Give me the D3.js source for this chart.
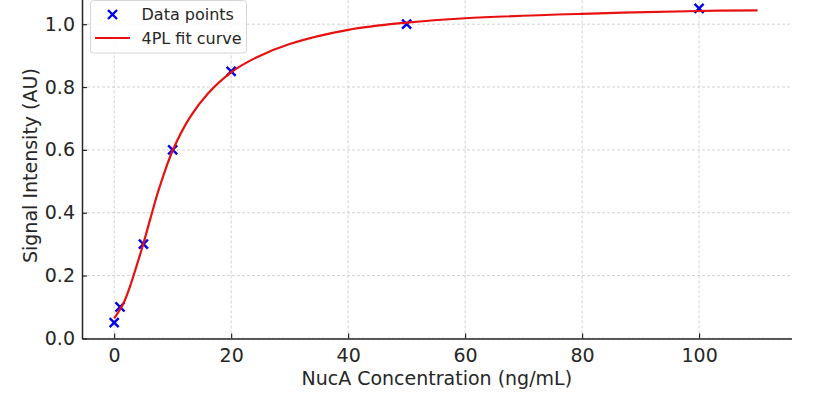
<!DOCTYPE html>
<html>
<head>
  <title>4PL fit</title>
  <script src="https://d3js.org/d3.v7.min.js"></script>
  <style>
    body { margin: 0; background: #fff; font-family: "DejaVu Sans", sans-serif; }
    svg text { fill: #262626; }
  </style>
</head>
<body>
  <div id="chart"></div>
  <script>
    // measured points
    let concX = [0, 1, 5, 10, 20, 50, 100];
    let signalY = [0.05, 0.1, 0.3, 0.6, 0.85, 1.0, 1.05];

    // fit curve
    let fitX = [0, 1.6, 2.7, 3.9, 5, 6.2, 7.7, 10, 13, 16, 20, 24.4, 30, 40, 50, 60, 80, 100, 110];
    let fitY = [0.064, 0.112, 0.165, 0.235, 0.302, 0.382, 0.478, 0.598, 0.705, 0.779, 0.847, 0.895, 0.937, 0.982, 1.005, 1.019, 1.033, 1.042, 1.044];

    let xTicks = [0, 20, 40, 60, 80, 100];
    let yTicks = [0, 0.2, 0.4, 0.6, 0.8, 1.0];

    let width = 815, height = 393;
    let left = 82, right = 791.5, bottom = 338.4;

    let svg = d3.select('#chart').append('svg')
      .attr('width', width)
      .attr('height', height);

    let x = d3.scaleLinear().domain([-5.5, 115.8]).range([left, right]);
    let y = d3.scaleLinear().domain([0, 1.1]).range([bottom, bottom - 1.1 * 314.2]);

    // grid
    let grid = svg.append('g');
    grid.selectAll('.gx').data(xTicks).enter().append('line')
      .attr('x1', d => x(d)).attr('x2', d => x(d))
      .attr('y1', bottom).attr('y2', 0)
      .attr('stroke', '#c8c8c8').attr('stroke-width', 0.8)
      .attr('stroke-dasharray', '3,2');
    grid.selectAll('.gy').data(yTicks).enter().append('line')
      .attr('x1', left).attr('x2', right)
      .attr('y1', d => y(d)).attr('y2', d => y(d))
      .attr('stroke', '#c8c8c8').attr('stroke-width', 0.8)
      .attr('stroke-dasharray', '3,2');

    // axes, ticks pointing inward
    let xAxis = svg.append('g')
      .attr('transform', 'translate(0,' + bottom + ')')
      .call(d3.axisBottom(x).tickValues(xTicks).tickSize(-5).tickPadding(10).tickSizeOuter(0)
        .tickFormat(d3.format('d')));
    let yAxis = svg.append('g')
      .attr('transform', 'translate(' + left + ',0)')
      .call(d3.axisLeft(y).tickValues(yTicks).tickSize(-5).tickPadding(7).tickSizeOuter(0)
        .tickFormat(d3.format('.1f')));

    [xAxis, yAxis].forEach(a => {
      a.selectAll('text').style('font-size', '19px').style('font-family', '"DejaVu Sans", sans-serif').attr('fill', '#262626');
      a.selectAll('line').attr('stroke', '#262626').attr('stroke-width', 1.2);
      a.select('.domain').attr('stroke', '#262626').attr('stroke-width', 1.5);
    });

    // scatter markers (x shape)
    let pts = concX.map((c, i) => ({ c: c, s: signalY[i] }));
    let cross = d3.symbol().type(d3.symbolX).size(55);
    svg.selectAll('.pt').data(pts).enter().append('path')
      .attr('d', cross)
      .attr('transform', d => 'translate(' + x(d.c) + ',' + y(d.s) + ')')
      .attr('fill', 'none')
      .attr('stroke', '#0000ee')
      .attr('stroke-width', 2.4);

    // fit line
    let fit = fitX.map((c, i) => [c, fitY[i]]);
    svg.append('path')
      .datum(fit)
      .attr('d', d3.line().x(d => x(d[0])).y(d => y(d[1])).curve(d3.curveCatmullRom.alpha(0.5)))
      .attr('fill', 'none')
      .attr('stroke', '#e8100f')
      .attr('stroke-width', 2.2);

    // axis labels
    svg.append('text')
      .attr('x', (left + right) / 2)
      .attr('y', 385)
      .attr('text-anchor', 'middle')
      .style('font-size', '19px')
      .text('NucA Concentration (ng/mL)');

    svg.append('text')
      .attr('transform', 'translate(37,' + ((bottom + y(1.1)) / 2) + ') rotate(-90)')
      .attr('text-anchor', 'middle')
      .style('font-size', '19px')
      .text('Signal Intensity (AU)');

    // legend
    let lg = svg.append('g');
    lg.append('rect')
      .attr('x', 90.5).attr('y', 0.5).attr('width', 156).attr('height', 52.5)
      .attr('rx', 3)
      .attr('fill', 'white').attr('fill-opacity', 0.85)
      .attr('stroke', '#d6d6d6');
    lg.append('path')
      .attr('d', cross)
      .attr('transform', 'translate(112.5,14.5)')
      .attr('fill', 'none').attr('stroke', '#0000ee').attr('stroke-width', 2.4);
    lg.append('line')
      .attr('x1', 95).attr('x2', 130).attr('y1', 38).attr('y2', 38)
      .attr('stroke', '#e8100f').attr('stroke-width', 2.2);
    lg.append('text').attr('x', 141.5).attr('y', 20).style('font-size', '16px').text('Data points');
    lg.append('text').attr('x', 141.5).attr('y', 44).style('font-size', '16px').text('4PL fit curve');
  </script>
</body>
</html>
